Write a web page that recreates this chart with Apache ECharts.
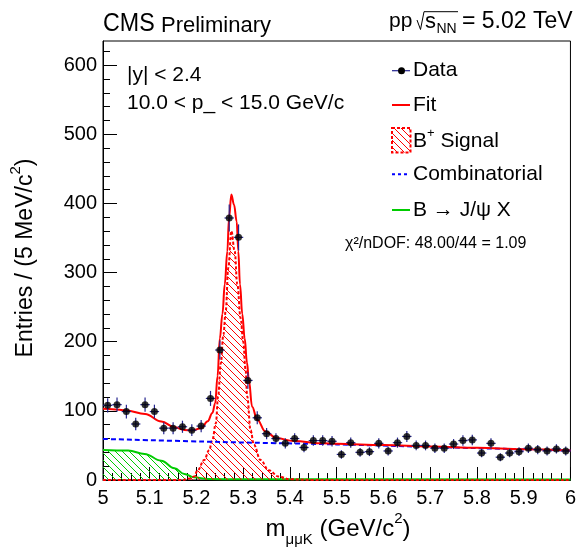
<!DOCTYPE html>
<html>
<head>
<meta charset="utf-8">
<script src="https://cdn.jsdelivr.net/npm/echarts@6/dist/echarts.min.js"></script>
<style>
  html, body { margin: 0; padding: 0; background: #fff; }
  #chart { width: 579px; height: 547px; }
</style>
</head>
<body>
<div id="chart"></div>
<script>
// B+ -> J/psi K+ invariant-mass fit, 10 < pT < 15 GeV/c

// Bin centres (GeV/c^2) and entries per bin
const massBins = [5.01, 5.03, 5.05, 5.07, 5.09, 5.11, 5.13, 5.15, 5.17, 5.19,
                  5.21, 5.23, 5.25, 5.27, 5.29, 5.31, 5.33, 5.35, 5.37, 5.39,
                  5.41, 5.43, 5.45, 5.47, 5.49, 5.51, 5.53, 5.55, 5.57, 5.59,
                  5.61, 5.63, 5.65, 5.67, 5.69, 5.71, 5.73, 5.75, 5.77, 5.79,
                  5.81, 5.83, 5.85, 5.87, 5.89, 5.91, 5.93, 5.95, 5.97, 5.99];
const entries = [108, 109, 99, 81, 109, 99, 75, 75, 77, 72,
                 78, 118, 188, 379, 351, 144, 90, 67, 60, 53,
                 60, 47, 57, 57, 56, 37, 54, 40, 41, 53,
                 42, 54, 63, 50, 50, 46, 46, 52, 57, 58,
                 39, 53, 33, 39, 41, 46, 44, 42, 45, 42];
const halfBin = 0.01;

// Total fit
const fitMass = [5.000, 5.020, 5.050, 5.090, 5.125, 5.153, 5.174, 5.190, 5.210, 5.224,
                 5.234, 5.240, 5.245, 5.250, 5.2555, 5.2605, 5.266, 5.2696, 5.2746, 5.2803,
                 5.286, 5.2895, 5.293, 5.298, 5.303, 5.308, 5.312, 5.319, 5.330, 5.3475,
                 5.372, 5.4076, 5.471, 5.500, 5.600, 5.700, 5.800, 5.900, 6.000];
const fitValue = [103, 102.5, 100.5, 95.5, 84.5, 76.3, 72.5, 71.5, 75, 85,
                  97, 111, 150, 205, 240, 283, 331, 379, 413, 398,
                  374, 331, 283, 240, 205, 170, 145, 106, 87, 70,
                  60.4, 56.5, 53, 52.5, 50.5, 48.5, 46.5, 44.5, 42.5];

// B+ signal component
const sigMass = [5.000, 5.170, 5.185, 5.195, 5.2024, 5.2166, 5.227, 5.234, 5.2414, 5.2463,
                 5.252, 5.2575, 5.2626, 5.268, 5.2746, 5.2817, 5.2873, 5.2945, 5.300, 5.305,
                 5.3085, 5.3157, 5.3227, 5.337, 5.3546, 5.3758, 5.400, 5.450, 6.000];
const sigValue = [0, 0, 2, 5, 14, 29, 43, 58, 82, 121,
                  169, 210, 245, 307, 360, 331, 283, 234, 200, 160,
                  121, 72, 51, 29, 14, 5, 1, 0, 0];

// Combinatorial background
const combMass = [5.00, 5.25, 5.50, 5.75, 6.00];
const combValue = [59.4, 55, 51.5, 47, 42.5];

// B -> J/psi X component
const jpsiMass = [5.000, 5.054, 5.089, 5.1246, 5.153, 5.174, 5.195, 5.2236, 5.300, 6.000];
const jpsiValue = [43.5, 42.5, 37.7, 28, 17, 8.7, 3.9, 1.5, 1, 0.8];

// Axis ticks
const xTickLabels = ['5', '5.1', '5.2', '5.3', '5.4', '5.5', '5.6', '5.7', '5.8', '5.9', '6'];
const yMajorTicks = [0, 100, 200, 300, 400, 500, 600];
const yMinorTicks = [20, 40, 60, 80, 120, 140, 160, 180, 220, 240, 260, 280,
                     320, 340, 360, 380, 420, 440, 460, 480, 520, 540, 560, 580, 620];

const FONT = '"Liberation Sans", Arial, Helvetica, sans-serif';
const RED = '#ff0000';
const BLUE = '#0000ff';
const GREEN = '#00cc00';
const ERR = '#24248f';

function hatch(color, size) {
  const c = document.createElement('canvas');
  c.width = size; c.height = size;
  const ctx = c.getContext('2d');
  ctx.strokeStyle = color;
  ctx.lineWidth = 1;
  ctx.beginPath();
  ctx.moveTo(0, 0); ctx.lineTo(size, size);
  ctx.moveTo(-1, size - 1); ctx.lineTo(1, size + 1);
  ctx.moveTo(size - 1, -1); ctx.lineTo(size + 1, 1);
  ctx.stroke();
  return c;
}
const redHatch = hatch(RED, 7);
const greenHatch = hatch(GREEN, 7);

const pairs = (xs, ys) => xs.map((x, i) => [x, ys[i]]);
const dataPoints = massBins.map((m, i) => [m, entries[i], Math.sqrt(entries[i])]);

const chart = echarts.init(document.getElementById('chart'), null, { renderer: 'canvas' });

const option = {
  animation: false,
  backgroundColor: '#fff',
  grid: { left: 103, right: 5, top: 41, bottom: 67, show: true, borderColor: '#000', borderWidth: 1, backgroundColor: 'transparent' },
  xAxis: {
    type: 'value', min: 5, max: 6, interval: 0.1,
    axisLine: { show: true, onZero: false, lineStyle: { color: '#000', width: 1 } },
    axisTick: { show: true, inside: true, length: 13, lineStyle: { color: '#000', width: 1 } },
    minorTick: { show: true, splitNumber: 5, length: 7, lineStyle: { color: '#000', width: 1 } },
    splitLine: { show: false },
    minorSplitLine: { show: false },
    axisLabel: {
      color: '#000', fontSize: 20, fontFamily: FONT, margin: 8,
      showMinLabel: true, showMaxLabel: true,
      formatter: v => xTickLabels[Math.round((v - 5) * 10)] || ''
    }
  },
  yAxis: [{
    type: 'value', min: 0, max: 635,
    axisLine: { show: true, onZero: false, lineStyle: { color: '#000', width: 1 } },
    axisTick: { show: true, inside: true, length: 14, customValues: yMajorTicks, lineStyle: { color: '#000', width: 1 } },
    splitLine: { show: false },
    axisLabel: { color: '#000', fontSize: 20, fontFamily: FONT, margin: 6, customValues: yMajorTicks }
  }, {
    type: 'value', min: 0, max: 635, position: 'left',
    axisLine: { show: false },
    axisTick: { show: true, inside: true, length: 7, customValues: yMinorTicks, lineStyle: { color: '#000', width: 1 } },
    splitLine: { show: false },
    axisLabel: { show: false }
  }],
  series: [
    {
      name: 'B -> J/psi X', type: 'line', clip: false,
      data: pairs(jpsiMass, jpsiValue),
      smooth: 0.4, smoothMonotone: 'x', showSymbol: false,
      lineStyle: { color: GREEN, width: 2 },
      areaStyle: { color: { image: greenHatch, repeat: 'repeat' }, opacity: 1, origin: 'start' },
      z: 2
    },
    {
      name: 'B+ Signal', type: 'line', clip: false,
      data: pairs(sigMass, sigValue),
      smooth: 0.4, smoothMonotone: 'x', showSymbol: false,
      lineStyle: { color: RED, width: 2, type: [3, 2] },
      areaStyle: { color: { image: redHatch, repeat: 'repeat' }, opacity: 1, origin: 'start' },
      z: 3
    },
    {
      name: 'Combinatorial', type: 'line',
      data: pairs(combMass, combValue),
      smooth: 0.3, showSymbol: false,
      lineStyle: { color: BLUE, width: 2, type: [5, 3] },
      z: 4
    },
    {
      name: 'Fit', type: 'line',
      data: pairs(fitMass, fitValue),
      smooth: 0.4, smoothMonotone: 'x', showSymbol: false,
      lineStyle: { color: RED, width: 2 },
      z: 5
    },
    {
      name: 'Data errors', type: 'custom',
      data: dataPoints,
      renderItem: function (params, api) {
        const x = api.value(0), y = api.value(1), e = api.value(2);
        const top = api.coord([x, y + e]);
        const bot = api.coord([x, y - e]);
        const l = api.coord([x - halfBin, y]);
        const r = api.coord([x + halfBin, y]);
        return {
          type: 'group',
          children: [
            { type: 'line', shape: { x1: top[0], y1: top[1], x2: bot[0], y2: bot[1] }, style: { stroke: ERR, lineWidth: 1.2 } },
            { type: 'line', shape: { x1: l[0], y1: l[1], x2: r[0], y2: r[1] }, style: { stroke: ERR, lineWidth: 1.2 } }
          ]
        };
      },
      z: 6
    },
    {
      name: 'Data', type: 'scatter',
      data: dataPoints.map(p => [p[0], p[1]]),
      symbol: 'circle', symbolSize: 7,
      itemStyle: { color: '#000' },
      z: 7
    }
  ],
  graphic: [
    // header
    { type: 'text', x: 103, y: 24, scaleX: 0.93, style: { text: 'CMS', font: '25px ' + FONT, fill: '#000', verticalAlign: 'middle' } },
    { type: 'text', x: 161, y: 26, style: { text: 'Preliminary', font: '22px ' + FONT, fill: '#000', verticalAlign: 'middle' } },
    { type: 'text', x: 389, y: 21.5, style: { text: 'pp', font: '21px ' + FONT, fill: '#000', verticalAlign: 'middle' } },
    { type: 'polyline', shape: { points: [[417, 20], [420.5, 29.5], [424, 11.7], [458, 11.7]] }, style: { stroke: '#000', lineWidth: 1, fill: null } },
    { type: 'text', x: 425, y: 21.5, style: { text: 's', font: '22px ' + FONT, fill: '#000', verticalAlign: 'middle' } },
    { type: 'text', x: 436.5, y: 28.7, style: { text: 'NN', font: '14px ' + FONT, fill: '#000', verticalAlign: 'middle' } },
    { type: 'text', x: 462, y: 21.5, style: { text: '= 5.02 TeV', font: '23px ' + FONT, fill: '#000', verticalAlign: 'middle' } },

    // selection
    { type: 'text', x: 127, y: 75, style: { text: '|y| < 2.4', font: '21px ' + FONT, fill: '#000', verticalAlign: 'middle' } },
    { type: 'text', x: 127, y: 103, style: { text: '10.0 < p_ < 15.0 GeV/c', font: '21px ' + FONT, fill: '#000', verticalAlign: 'middle' } },

    // legend
    { type: 'line', shape: { x1: 392, y1: 70.7, x2: 410, y2: 70.7 }, style: { stroke: ERR, lineWidth: 1.2 } },
    { type: 'circle', shape: { cx: 401.5, cy: 70.7, r: 3.5 }, style: { fill: '#000' } },
    { type: 'text', x: 413, y: 70.7, style: { text: 'Data', font: '21px ' + FONT, fill: '#000', verticalAlign: 'middle' } },

    { type: 'line', shape: { x1: 392, y1: 105, x2: 410, y2: 105 }, style: { stroke: RED, lineWidth: 2 } },
    { type: 'text', x: 413, y: 105, style: { text: 'Fit', font: '21px ' + FONT, fill: '#000', verticalAlign: 'middle' } },

    { type: 'rect', shape: { x: 392, y: 128, width: 18.5, height: 24.5 },
      style: { fill: { image: redHatch, repeat: 'repeat' }, stroke: RED, lineWidth: 2, lineDash: [3, 2] } },
    { type: 'text', x: 413, y: 141, style: {
        text: '{a|B}{s|+}{a| Signal}', fill: '#000', verticalAlign: 'middle',
        rich: {
          a: { fontSize: 21, fontFamily: FONT, lineHeight: 28, fill: '#000' },
          s: { fontSize: 13, fontFamily: FONT, lineHeight: 14, verticalAlign: 'top', fill: '#000' }
        } } },

    { type: 'line', shape: { x1: 392, y1: 174.3, x2: 410, y2: 174.3 }, style: { stroke: BLUE, lineWidth: 2, lineDash: [3, 3] } },
    { type: 'text', x: 413, y: 174.3, style: { text: 'Combinatorial', font: '21px ' + FONT, fill: '#000', verticalAlign: 'middle' } },

    { type: 'line', shape: { x1: 392, y1: 210, x2: 410, y2: 210 }, style: { stroke: GREEN, lineWidth: 2 } },
    { type: 'text', x: 413, y: 210, style: { text: 'B \u2192 J/\u03c8 X', font: '21px ' + FONT, fill: '#000', verticalAlign: 'middle' } },

    { type: 'text', x: 345, y: 244, style: { text: '\u03c7\u00b2/nDOF: 48.00/44 = 1.09', font: '16px ' + FONT, fill: '#000', verticalAlign: 'middle' } },

    // axis titles
    { type: 'text', x: 338, y: 529, style: {
        text: '{a|m}{b|\u03bc\u03bcK}{a| (GeV/c}{c|2}{a|)}', align: 'center', verticalAlign: 'middle',
        rich: {
          a: { fontSize: 24, fontFamily: FONT, lineHeight: 36, fill: '#000' },
          b: { fontSize: 15, fontFamily: FONT, lineHeight: 15, verticalAlign: 'bottom', fill: '#000' },
          c: { fontSize: 15, fontFamily: FONT, lineHeight: 22, verticalAlign: 'top', fill: '#000' }
        } } },
    { type: 'text', x: 26, y: 258, rotation: Math.PI / 2, style: {
        text: '{a|Entries / (5 MeV/c}{c|2}{a|)}', align: 'center', verticalAlign: 'middle',
        rich: {
          a: { fontSize: 23, fontFamily: FONT, lineHeight: 36, fill: '#000' },
          c: { fontSize: 15, fontFamily: FONT, lineHeight: 22, verticalAlign: 'top', fill: '#000' }
        } } }
  ]
};

chart.setOption(option);
</script>
</body>
</html>
